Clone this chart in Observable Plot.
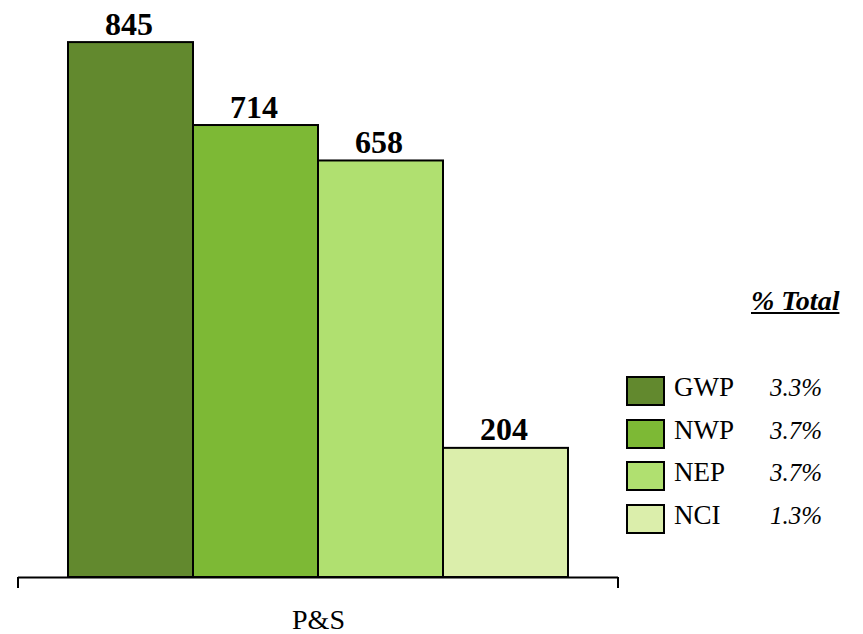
<!DOCTYPE html>
<html>
<head>
<meta charset="utf-8">
<script src="https://cdn.jsdelivr.net/npm/d3@7"></script>
<script src="https://cdn.jsdelivr.net/npm/@observablehq/plot@0.6"></script>
<style>
  html, body { margin: 0; padding: 0; background: #fff; }
  #wrap { position: relative; width: 863px; height: 634px; font-family: "Liberation Serif", "Times New Roman", serif; }
  #legend { position: absolute; left: 626px; top: 0; }
  .lg-title { position: absolute; left: 125px; top: 285px; font-size: 28px; font-weight: bold; font-style: italic; text-decoration: underline; white-space: nowrap; }
  .lg-row { position: absolute; left: 0; height: 29px; white-space: nowrap; }
  .lg-sw { position: absolute; left: 0; top: 0; width: 35px; height: 26px; border: 2px solid #000; }
  .lg-name { position: absolute; left: 48px; top: -4px; font-size: 27px; }
  .lg-pct { position: absolute; left: 144px; top: -2px; font-size: 25px; font-style: italic; }
</style>
</head>
<body>
<div id="wrap"></div>
<script>
const series = ["GWP", "NWP", "NEP", "NCI"];
const values = [845, 714, 658, 204];
const colors = ["#62892e", "#7db935", "#b0e070", "#dbeeab"];
const pctTotal = ["3.3%", "3.7%", "3.7%", "1.3%"];
const groupLabel = "P&S";
const legendTitle = "% Total";

const data = series.map((name, i) => ({name, value: values[i]}));

const endTicks = (index, scales, values, dim) => {
  const y0 = scales.y(0);
  const xl = dim.marginLeft, xr = dim.width - dim.marginRight;
  return d3.create("svg:path")
    .attr("d", `M${xl},${y0}v11M${xr},${y0}v11`)
    .attr("stroke", "black").attr("stroke-width", 2).attr("fill", "none")
    .node();
};

const chart = Plot.plot({
  width: 863,
  height: 634,
  marginLeft: 18,
  marginRight: 245,
  marginTop: 0,
  marginBottom: 57,
  style: {fontFamily: "'Liberation Serif', 'Times New Roman', serif", background: "transparent"},
  x: {domain: series, paddingInner: 0, paddingOuter: 0.4, axis: null},
  y: {domain: [0, 911.5], axis: null},
  color: {domain: series, range: colors},
  marks: [
    Plot.barY(data, {x: "name", y: "value", fill: "name", stroke: "black", strokeWidth: 2}),
    Plot.text(data, {x: "name", y: "value", text: d => String(d.value), lineAnchor: "bottom", dy: -8, dx: -2, fontSize: 32, fontWeight: "bold", fill: "black"}),
    Plot.ruleY([0], {stroke: "black", strokeWidth: 2}),
    endTicks,
    Plot.text([groupLabel], {frameAnchor: "bottom", lineAnchor: "bottom", dy: 51, fontSize: 28, fill: "black"})
  ]
});

const wrap = document.getElementById("wrap");
wrap.appendChild(chart);

const legend = document.createElement("div");
legend.id = "legend";
const t = document.createElement("div");
t.className = "lg-title";
t.textContent = legendTitle;
legend.appendChild(t);
series.forEach((s, i) => {
  const row = document.createElement("div");
  row.className = "lg-row";
  row.style.top = (376 + i * 42.7) + "px";
  const sw = document.createElement("div");
  sw.className = "lg-sw";
  sw.style.background = colors[i];
  const nm = document.createElement("div");
  nm.className = "lg-name";
  nm.textContent = s;
  const pc = document.createElement("div");
  pc.className = "lg-pct";
  pc.textContent = pctTotal[i];
  row.append(sw, nm, pc);
  legend.appendChild(row);
});
wrap.appendChild(legend);
</script>
</body>
</html>
